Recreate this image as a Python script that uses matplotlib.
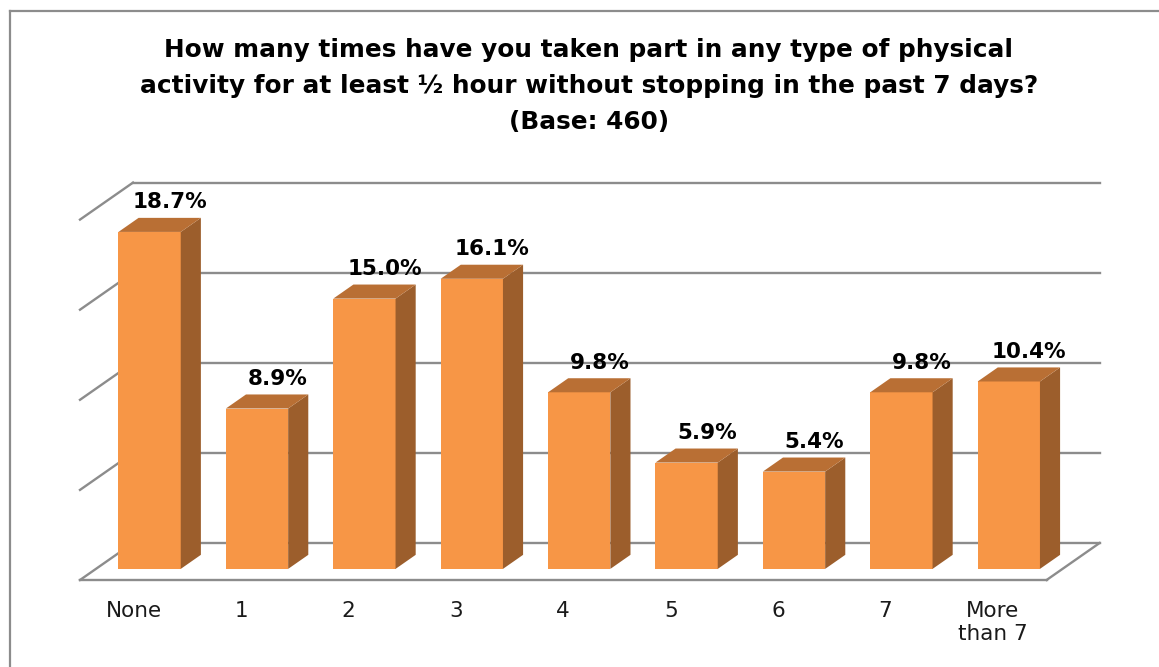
import matplotlib
matplotlib.use("Agg")
import matplotlib.pyplot as plt
from matplotlib.patches import Polygon
from matplotlib.lines import Line2D

# ---- data ----
categories = ["None", "1", "2", "3", "4", "5", "6", "7", "More\nthan 7"]
values = [18.7, 8.9, 15.0, 16.1, 9.8, 5.9, 5.4, 9.8, 10.4]
value_labels = ["18.7%", "8.9%", "15.0%", "16.1%", "9.8%", "5.9%", "5.4%", "9.8%", "10.4%"]
grid_values = [0, 5, 10, 15, 20]
title = ("How many times have you taken part in any type of physical\n"
         "activity for at least \u00bd hour without stopping in the past 7 days?\n"
         "(Base: 460)")

# ---- style ----
FRONT = "#F79646"
SIDE = "#9C5E2C"
TOP = "#B96F34"
GRID = "#8C8C8C"

W, H = 1159, 667
fig = plt.figure(figsize=(W / 100, H / 100), dpi=100)
fig.patch.set_facecolor("white")

# axes in data units: x = category units, y = percent
px_per_cat = 107.4
px_per_pct = 18.02
left_px, right_px = 80, 1100
floor_px, top_px = 580, 170
ax = fig.add_axes([left_px / W, (H - floor_px) / H,
                   (right_px - left_px) / W, (floor_px - top_px) / H])
ax.set_xlim(0, (right_px - left_px) / px_per_cat)
ax.set_ylim(0, (floor_px - top_px) / px_per_pct)
ax.axis("off")

n = len(categories)
DX = 53 / px_per_cat      # full depth offset in x
DY = 37 / px_per_pct      # full depth offset in y

# walls / floor
for v in grid_values:
    ax.add_line(Line2D([0, DX], [v, v + DY], color=GRID, lw=1.7, zorder=1,
                       clip_on=False))
    ax.add_line(Line2D([DX, n + DX], [v + DY, v + DY], color=GRID, lw=1.7,
                       zorder=1, clip_on=False))
ax.add_line(Line2D([0, n], [0, 0], color=GRID, lw=1.7, zorder=1, clip_on=False))
ax.add_line(Line2D([n, n + DX], [0, DY], color=GRID, lw=1.7, zorder=1,
                   clip_on=False))

# bars
bw = 0.58
d0, d1 = 0.3, 0.68
for i, v in enumerate(values):
    xc = i + 0.5
    x0 = xc - bw / 2 + d0 * DX
    x1 = xc + bw / 2 + d0 * DX
    yb = d0 * DY
    yt = v + d0 * DY
    ddx = (d1 - d0) * DX
    ddy = (d1 - d0) * DY
    ax.add_patch(Polygon([[x0, yb], [x1, yb], [x1, yt], [x0, yt]],
                         closed=True, fc=FRONT, ec="none", zorder=3, clip_on=False))
    ax.add_patch(Polygon([[x1, yb], [x1 + ddx, yb + ddy], [x1 + ddx, yt + ddy],
                          [x1, yt]], closed=True, fc=SIDE, ec="none", zorder=3,
                         clip_on=False))
    ax.add_patch(Polygon([[x0, yt], [x1, yt], [x1 + ddx, yt + ddy],
                          [x0 + ddx, yt + ddy]], closed=True, fc=TOP, ec="none",
                         zorder=3, clip_on=False))
    ax.annotate(value_labels[i], xy=(xc + d1 * DX, v + d1 * DY),
                xytext=(0, 4), textcoords="offset points", ha="center",
                va="bottom", fontsize=15.5, fontweight="bold", color="black",
                zorder=4)
    ax.annotate(categories[i], xy=(xc, 0), xytext=(0, -15),
                textcoords="offset points", ha="center", va="top",
                fontsize=15.5, color="#1a1a1a", linespacing=1.2)

fig.text(0.508, 1 - 38 / H, title, ha="center", va="top", fontsize=17.8,
         fontweight="bold", color="black", linespacing=1.62)

# chart frame (extends beyond the image on right and bottom)
fig.add_artist(Line2D([10 / W, 1.0], [1 - 11 / H, 1 - 11 / H],
                      transform=fig.transFigure, color="#8C8C8C", lw=1.6))
fig.add_artist(Line2D([10 / W, 10 / W], [0, 1 - 11 / H],
                      transform=fig.transFigure, color="#8C8C8C", lw=1.6))

fig.savefig("out.png", dpi=100, facecolor="white")
